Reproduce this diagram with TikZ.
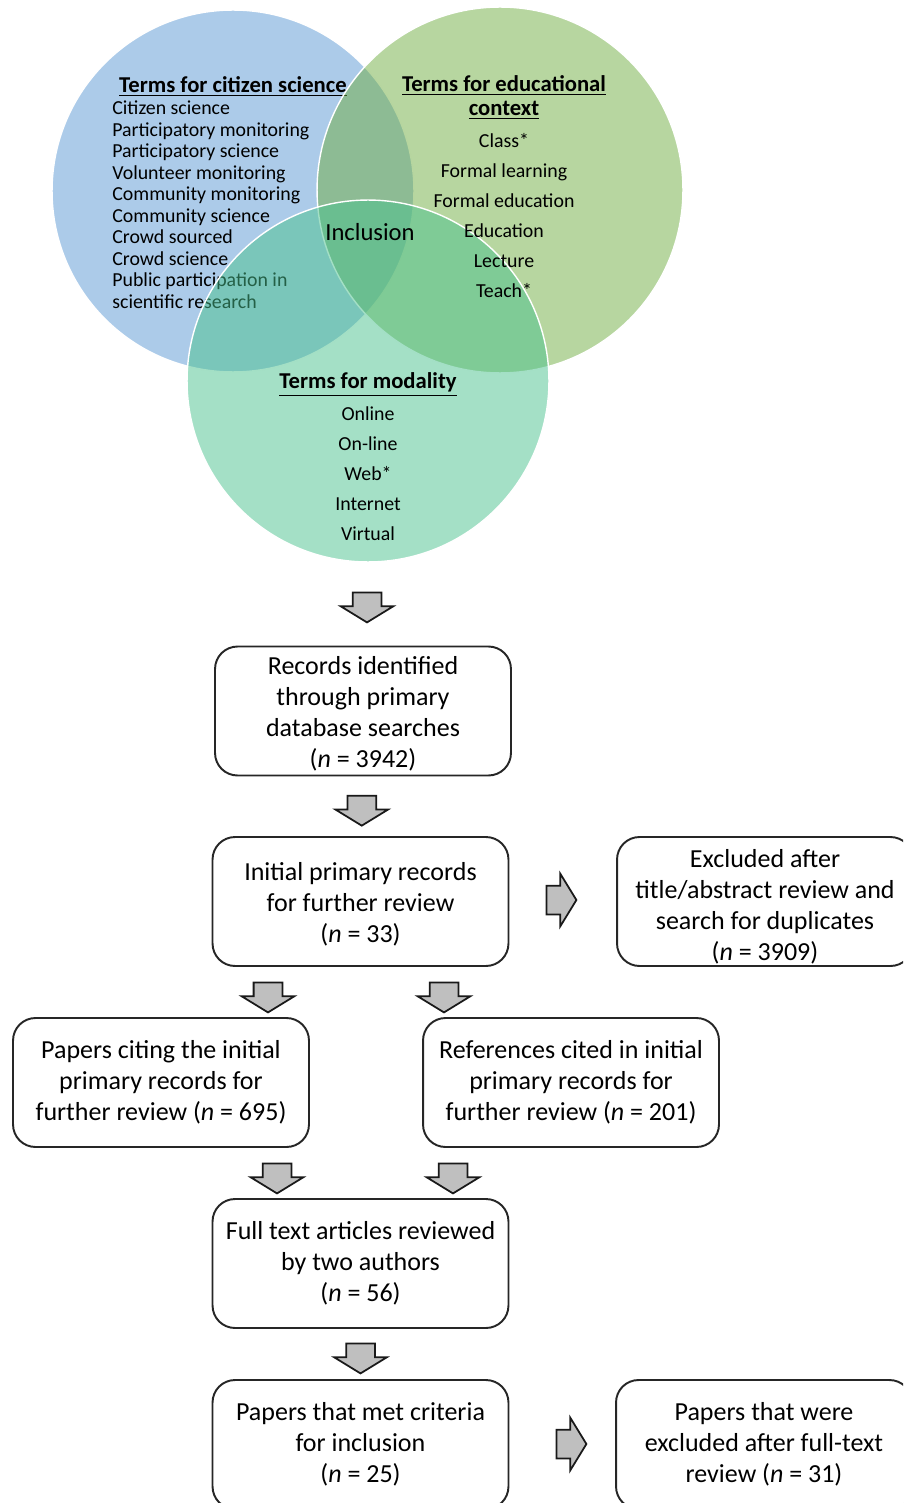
\documentclass[tikz,border=0pt]{standalone}
\usepackage{fontspec}
\setmainfont{Carlito}
\usetikzlibrary{shapes.arrows,calc}

\definecolor{csblue}{RGB}{89,151,211}
\definecolor{edgreen}{RGB}{111,173,65}
\definecolor{modteal}{RGB}{73,193,141}
\definecolor{arrowgray}{RGB}{191,191,191}

\tikzset{
  venn/.style={fill opacity=0.5, draw=white, line width=0.8pt},
  vennhead/.style={font=\fontsize{12.9}{15}\selectfont\bfseries, anchor=base},
  vennterm/.style={font=\fontsize{11.3}{13}\selectfont, anchor=base},
  flowbox/.style={draw=black!85, line width=1.1pt, rounded corners=0.45cm,
    minimum width=5.92cm, minimum height=2.58cm, align=center, inner ysep=0pt,
    font=\fontsize{14.8}{17.6}\selectfont},
  blockarrow/.style={single arrow, draw=black!90, fill=arrowgray, line width=1pt,
    inner xsep=0pt, inner ysep=0.27cm, single arrow head extend=0.24cm,
    single arrow tip angle=117, minimum height=0.6cm},
  downarrow/.style={blockarrow, rotate=-90},
}

\begin{document}
\begin{tikzpicture}[x=0.02cm, y=-0.02cm]
    \useasboundingbox (0,0) rectangle (903,1503);
    \clip (0,0) rectangle (903,1503);

    % Citizen science circle
    \path[venn, fill=csblue] (233,191) circle[radius=3.62cm];
    \node[vennhead] (cshead) at (233,93) {\underline{Terms for citizen science}};
    \foreach \term [count=\i] in {Citizen science, Participatory monitoring,
        Participatory science, Volunteer monitoring, Community monitoring,
        Community science, Crowd sourced, Crowd science,
        Public participation in, scientific research}
      \node[vennterm, anchor=base west, inner xsep=0pt] (cs\i) at (112,93.5+21.5*\i) {\term};

    % Educational context and modality circles
    \path[venn, fill=edgreen] (500,190) circle[radius=3.66cm];
    \path[venn, fill=modteal] (368,381) circle[radius=3.62cm];

    % Educational context terms
    \node[vennhead] (edhead1) at (504,92) {\underline{Terms for educational}};
    \node[vennhead] (edhead2) at (504,116) {\underline{context}};
    \foreach \term [count=\i] in {Class*, Formal learning, Formal education,
        Education, Lecture, Teach*}
      \node[vennterm] (ed\i) at (504,118+30*\i) {\term};

    % Modality terms
    \node[vennhead] (modhead) at (368,389) {\underline{Terms for modality}};
    \foreach \term [count=\i] in {Online, On-line, Web*, Internet, Virtual}
      \node[vennterm] (mod\i) at (368,390+30*\i) {\term};

    \node[font=\fontsize{14}{17}\selectfont] (incl) at (370,232) {Inclusion};

    % Flow boxes
    \node[flowbox, text height=64pt, text depth=0pt] (rec) at (363,711) {Records identified\\through primary\\database searches\\(\textit{n} = 3942)};
    \node[flowbox, text height=46.3pt, text depth=0pt] (init) at (360.5,901.5) {Initial primary records\\for further review\\(\textit{n} = 33)};
    \node[flowbox, text height=67.3pt, text depth=0pt] (excl) at (765,901.5) {Excluded after\\title/abstract review and\\search for duplicates\\(\textit{n} = 3909)};
    \node[flowbox] (cite) at (161,1082.5) {Papers citing the initial\\primary records for\\further review (\textit{n} = 695)};
    \node[flowbox] (refs) at (571,1082.5) {References cited in initial\\primary records for\\further review (\textit{n} = 201)};
    \node[flowbox] (full) at (360.5,1263.5) {Full text articles reviewed\\by two authors\\(\textit{n} = 56)};
    \node[flowbox] (met) at (360.5,1444.5) {Papers that met criteria\\for inclusion\\(\textit{n} = 25)};
    \node[flowbox] (wex) at (764,1444.5) {Papers that were\\excluded after full-text\\review (\textit{n} = 31)};

    % Block arrows
    \node[downarrow] (arr0) at (367,603) {};
    \node[downarrow] (arr1) at ($(rec.south)!0.5!(init.north)$) {};
    \node[downarrow] (arr2) at (268,993) {};
    \node[downarrow] (arr3) at (444,993) {};
    \node[downarrow] (arr4) at (277,1174) {};
    \node[downarrow] (arr5) at (453,1174) {};
    \node[downarrow] (arr6) at ($(full.south)!0.5!(met.north)$) {};
    \node[blockarrow] (arr7) at (557,900) {};
    \node[blockarrow] (arr8) at (567,1444) {};
\end{tikzpicture}
\end{document}
